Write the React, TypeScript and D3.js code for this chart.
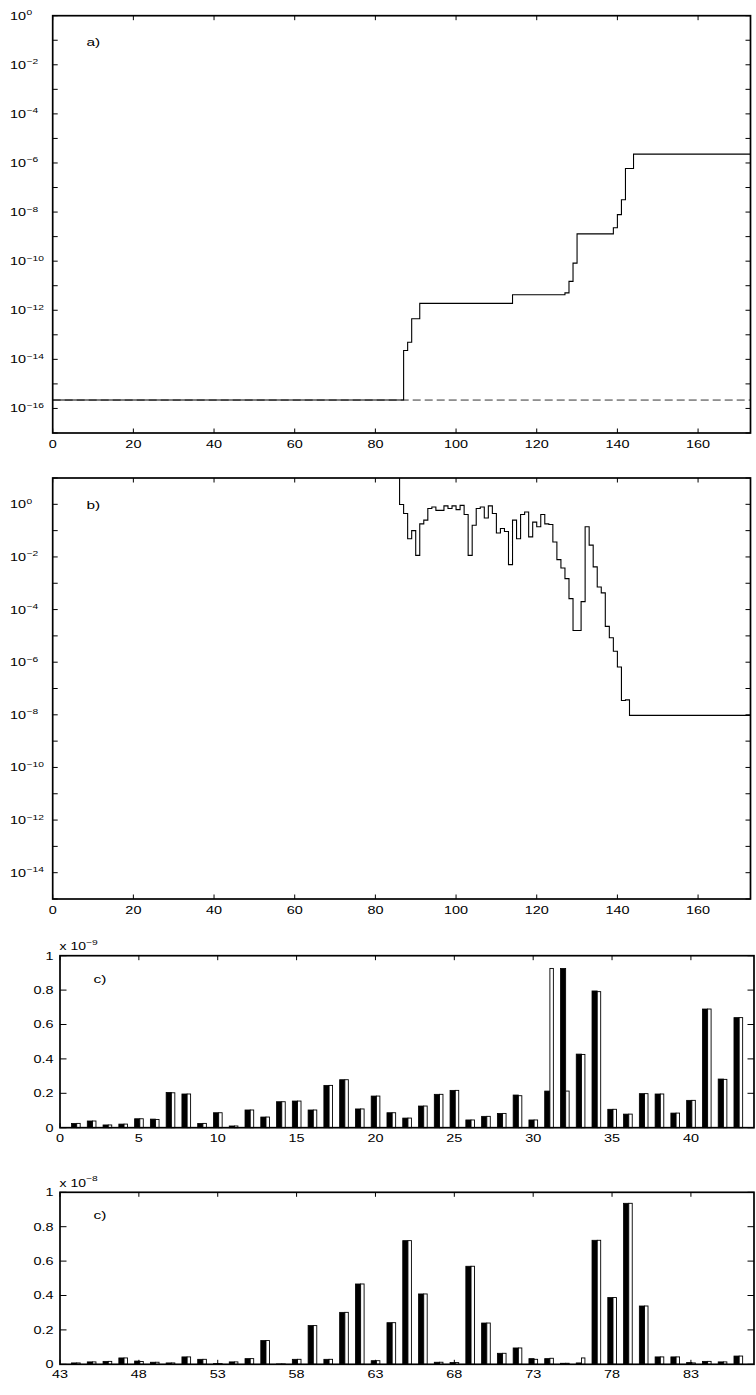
import * as d3 from 'd3';
import { useRef, useEffect } from 'react';

const FONT = '"Liberation Sans", Arial, Helvetica, sans-serif';
// the reference text is drawn wide, so every label gets a horizontal stretch
const STRETCH = 1.4;

// a) stairs: iteration where the value changes, and the value from there on
const EPS = 2.2e-16;
const aIter = [0, 87, 88, 89, 91, 114, 127, 128, 129, 130, 139, 140, 141, 142, 144, 173];
const aValue = [
  2.2e-16, 2.3e-14, 5.0e-14, 4.5e-13, 1.9e-12, 4.3e-12, 5.1e-12, 1.5e-11, 8.3e-11,
  1.3e-9, 2.3e-9, 7.9e-9, 3.2e-8, 6.0e-7, 2.3e-6, 2.3e-6,
];

// b) stairs, one value per iteration from 85 (off the top) to 143, then flat to 173
const bIter = [
  85, 86, 87, 88, 89, 90, 91, 92, 93, 94, 95, 96, 97, 98, 99, 100, 101, 102, 103, 104,
  105, 106, 107, 108, 109, 110, 111, 112, 113, 114, 115, 116, 117, 118, 119, 120, 121,
  122, 123, 124, 125, 126, 127, 128, 129, 130, 131, 132, 133, 134, 135, 136, 137, 138,
  139, 140, 141, 142, 143, 173,
];
const bValue = [
  50, 0.98, 0.45, 0.049, 0.1, 0.0115, 0.18, 0.25, 0.69, 0.79, 0.59, 0.59, 0.87, 0.69,
  0.87, 0.63, 0.91, 0.41, 0.0115, 0.16, 0.69, 0.79, 0.3, 0.87, 0.45, 0.081, 0.12, 0.093,
  0.0051, 0.25, 0.049, 0.41, 0.51, 0.058, 0.21, 0.14, 0.41, 0.18, 0.17, 0.037, 0.0079,
  0.0038, 0.0015, 2.6e-4, 1.6e-5, 1.6e-5, 2.0e-4, 0.14, 0.028, 0.0042, 7.2e-4, 4.3e-4,
  2.3e-5, 8.5e-6, 2.6e-6, 6.6e-7, 3.5e-8, 3.7e-8, 9.5e-9, 9.5e-9,
];

// c) first bar chart, categories 1..43 (units of 1e-9)
const cIndex = d3.range(1, 44);
const cBlack = [
  0.025, 0.039, 0.016, 0.021, 0.052, 0.05, 0.205, 0.196, 0.025, 0.087, 0.01, 0.103, 0.062,
  0.151, 0.155, 0.103, 0.246, 0.279, 0.109, 0.184, 0.087, 0.056, 0.126, 0.194, 0.217,
  0.045, 0.066, 0.083, 0.19, 0.045, 0.213, 0.926, 0.428, 0.795, 0.107, 0.079, 0.198,
  0.196, 0.085, 0.159, 0.69, 0.283, 0.64,
];
const cWhite = [
  0.025, 0.039, 0.016, 0.021, 0.052, 0.048, 0.203, 0.196, 0.025, 0.087, 0.01, 0.103, 0.062,
  0.151, 0.155, 0.103, 0.246, 0.279, 0.109, 0.184, 0.087, 0.056, 0.126, 0.194, 0.217,
  0.045, 0.066, 0.083, 0.186, 0.045, 0.926, 0.213, 0.426, 0.791, 0.107, 0.079, 0.198,
  0.196, 0.085, 0.159, 0.69, 0.281, 0.64,
];

// second bar chart, categories 44..86 (units of 1e-8)
const dIndex = d3.range(44, 87);
const dBlack = [
  0.008, 0.014, 0.017, 0.037, 0.019, 0.012, 0.008, 0.043, 0.029, 0.004, 0.014, 0.033,
  0.138, 0.002, 0.029, 0.225, 0.029, 0.302, 0.467, 0.021, 0.242, 0.719, 0.409, 0.012,
  0.01, 0.57, 0.24, 0.064, 0.095, 0.033, 0.033, 0.006, 0.008, 0.721, 0.388, 0.936,
  0.339, 0.043, 0.043, 0.01, 0.017, 0.014, 0.048,
];
const dWhite = [
  0.008, 0.014, 0.017, 0.037, 0.016, 0.012, 0.008, 0.043, 0.029, 0.004, 0.014, 0.033,
  0.138, 0.002, 0.029, 0.225, 0.029, 0.302, 0.467, 0.021, 0.242, 0.719, 0.409, 0.012,
  0.01, 0.57, 0.24, 0.064, 0.095, 0.029, 0.035, 0.006, 0.037, 0.721, 0.388, 0.936,
  0.339, 0.043, 0.043, 0.008, 0.017, 0.014, 0.048,
];

const abTicks = [0, 20, 40, 60, 80, 100, 120, 140, 160];
const cTicks = [0, 5, 10, 15, 20, 25, 30, 35, 40];
const dTicks = [43, 48, 53, 58, 63, 68, 73, 78, 83];
const barYTicks = [0, 0.2, 0.4, 0.6, 0.8, 1];

// text placed at (x, y) and stretched sideways around that point
const label = (g, x, y, s, size, anchor = 'start') =>
  g
    .append('text')
    .attr('transform', `translate(${x},${y}) scale(${STRETCH},1)`)
    .attr('text-anchor', anchor)
    .attr('font-size', size)
    .attr('fill', '#000')
    .text(s);

const frame = (g, x, y, xTicks, yTicks, xLen, yLen) => {
  const [l, r] = x.range();
  const [b, t] = y.range();
  const tk = g.append('g').attr('stroke', '#000').attr('stroke-width', 1);
  xTicks.forEach((v) => {
    tk.append('line').attr('x1', x(v)).attr('x2', x(v)).attr('y1', b).attr('y2', b - xLen);
    tk.append('line').attr('x1', x(v)).attr('x2', x(v)).attr('y1', t).attr('y2', t + xLen);
  });
  yTicks.forEach((v) => {
    tk.append('line').attr('x1', l).attr('x2', l + yLen).attr('y1', y(v)).attr('y2', y(v));
    tk.append('line').attr('x1', r).attr('x2', r - yLen).attr('y1', y(v)).attr('y2', y(v));
  });
  g.append('rect')
    .attr('x', l)
    .attr('y', t)
    .attr('width', r - l)
    .attr('height', b - t)
    .attr('fill', 'none')
    .attr('stroke', '#000')
    .attr('stroke-width', 1.7);
};

const App = () => {
  const svgRef = useRef(null);

  useEffect(() => {
    refreshChart();
  }, []);

  const refreshChart = () => {
    const svg = d3.select(svgRef.current);
    svg.selectAll('*').remove();
    svg.attr('font-family', FONT);

    const logPanel = (id, top, bottom, expMin, expMax, iters, values, name, dashed) => {
      const x = d3.scaleLinear().domain([0, 173]).range([52.7, 750.5]);
      const y = d3.scaleLog().domain([10 ** expMin, 10 ** expMax]).range([bottom, top]);
      const g = svg.append('g');

      g.append('clipPath')
        .attr('id', id)
        .append('rect')
        .attr('x', 52.7)
        .attr('y', top)
        .attr('width', 750.5 - 52.7)
        .attr('height', bottom - top);

      const pts = iters.map((v, i) => [v, values[i]]);
      const line = d3
        .line()
        .curve(d3.curveStepAfter)
        .x((d) => x(d[0]))
        .y((d) => y(d[1]));

      if (dashed) {
        g.append('line')
          .attr('x1', x(0))
          .attr('x2', x(173))
          .attr('y1', y(EPS))
          .attr('y2', y(EPS))
          .attr('stroke', '#333')
          .attr('stroke-width', 1)
          .attr('stroke-dasharray', '8,4');
      }

      g.append('path')
        .attr('d', line(pts))
        .attr('fill', 'none')
        .attr('stroke', '#000')
        .attr('stroke-width', 1.1)
        .attr('clip-path', `url(#${id})`);

      const decades = d3.range(expMin, expMax + 1).map((e) => 10 ** e);
      frame(g, x, y, abTicks, decades, 4.5, 5);

      abTicks.forEach((v) => label(g, x(v), bottom + 14.5, String(v), 10.3, 'middle'));

      d3.range(expMin, expMax + 1)
        .filter((e) => e % 2 === 0)
        .forEach((e) => {
          const py = y(10 ** e);
          label(g, 26, py + 4, '10', 10.3, 'end');
          label(g, 26.5, py - 0.5, e === 0 ? '0' : '\u2212' + -e, 7.3);
        });

      label(g, 86.5, top + 30.5, name, 11);
    };

    logPanel('clipA', 15.7, 433, -17, 0, aIter, aValue, 'a)', true);
    logPanel('clipB', 478, 899, -15, 1, bIter, bValue, 'b)', false);

    const barPanel = (top, bottom, xDomain, index, black, white, xTicks, expo) => {
      const x = d3.scaleLinear().domain(xDomain).range([60, 754]);
      const y = d3.scaleLinear().domain([0, 1]).range([bottom, top]);
      const g = svg.append('g');

      index.forEach((k, i) => {
        g.append('rect')
          .attr('x', x(k - 0.27))
          .attr('width', x(k + 0.06) - x(k - 0.27))
          .attr('y', y(black[i]))
          .attr('height', y(0) - y(black[i]))
          .attr('fill', '#000')
          .attr('stroke', '#000')
          .attr('stroke-width', 0.8);
        g.append('rect')
          .attr('x', x(k + 0.06))
          .attr('width', x(k + 0.28) - x(k + 0.06))
          .attr('y', y(white[i]))
          .attr('height', y(0) - y(white[i]))
          .attr('fill', '#fff')
          .attr('stroke', '#000')
          .attr('stroke-width', 0.9);
      });

      frame(g, x, y, xTicks, barYTicks, 4.5, 6.5);

      xTicks.forEach((v) => label(g, x(v), bottom + 14, String(v), 10.3, 'middle'));
      barYTicks.forEach((v) => label(g, 53.5, y(v) + 3.8, String(v), 10.3, 'end'));

      label(g, 59.5, top - 5.5, 'x 10', 10);
      label(g, 86, top - 11, '\u2212' + expo, 7.3);

      label(g, 93.5, top + 27, 'c)', 11);
    };

    barPanel(955.7, 1127.7, [0, 44], cIndex, cBlack, cWhite, cTicks, 9);
    barPanel(1192.3, 1364.3, [43, 87], dIndex, dBlack, dWhite, dTicks, 8);
  };

  return (
    <svg
      ref={svgRef}
      width={756}
      height={1395}
      style={{ position: 'absolute', left: 0, top: 0, background: '#fff' }}
    />
  );
};

export default App;
